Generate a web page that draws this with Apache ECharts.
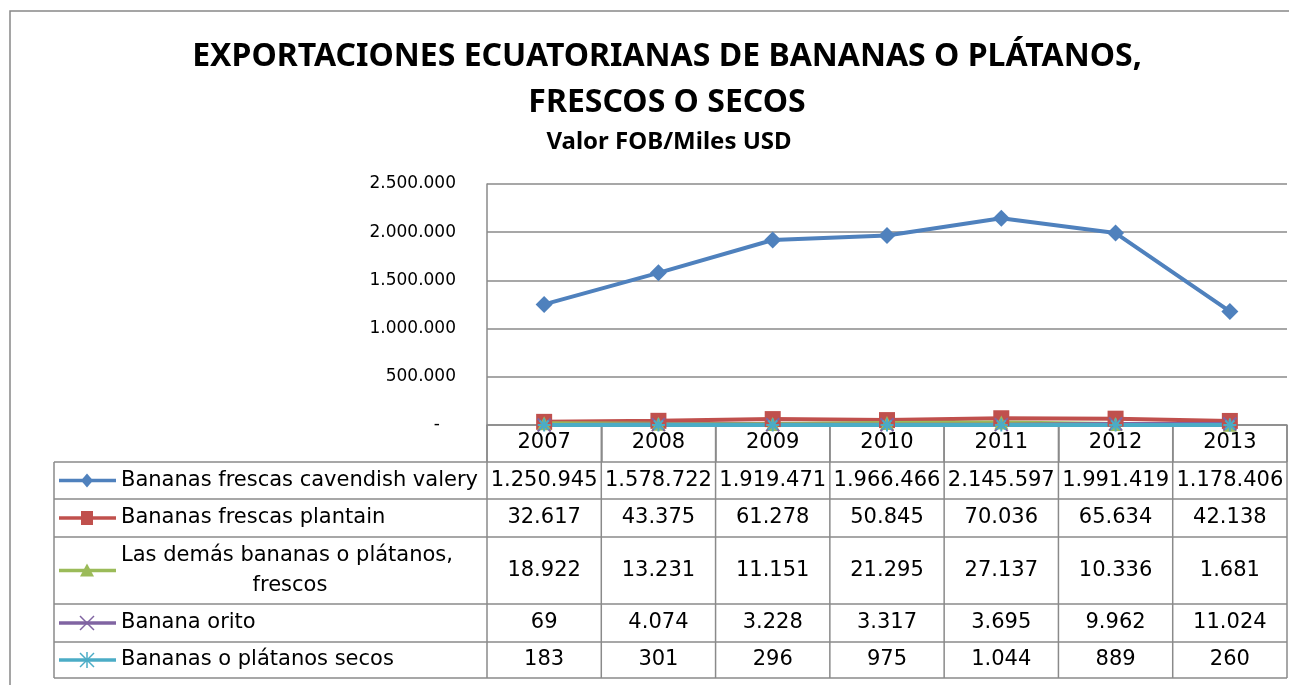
<!DOCTYPE html>
<html>
<head>
<meta charset="utf-8">
<script src="https://cdn.jsdelivr.net/npm/echarts@6/dist/echarts.min.js"></script>
<style>
  html, body { margin: 0; padding: 0; background: #fff; }
  #chart { width: 1289px; height: 685px; }
</style>
</head>
<body>
<div id="chart"></div>
<script>
// datos
var years = ['2007', '2008', '2009', '2010', '2011', '2012', '2013'];
var seriesNames = [
  'Bananas frescas cavendish valery',
  'Bananas frescas plantain',
  'Las demás bananas o plátanos, frescos',
  'Banana orito',
  'Bananas o plátanos secos'
];
var cavendish = [1250945, 1578722, 1919471, 1966466, 2145597, 1991419, 1178406];
var plantain = [32617, 43375, 61278, 50845, 70036, 65634, 42138];
var demas = [18922, 13231, 11151, 21295, 27137, 10336, 1681];
var orito = [69, 4074, 3228, 3317, 3695, 9962, 11024];
var secos = [183, 301, 296, 975, 1044, 889, 260];
var yTicks = [0, 500000, 1000000, 1500000, 2000000, 2500000];

var colors = ['#4F81BD', '#C0504D', '#9BBB59', '#8064A2', '#4BACC6'];
var allData = [cavendish, plantain, demas, orito, secos];
var xPath = 'path://M0,0L10,10M10,0L0,10';
var starPath = 'path://M5,0L5,10M0,5L10,5M1.5,1.5L8.5,8.5M8.5,1.5L1.5,8.5';
var symbols = ['diamond', 'rect', 'triangle', xPath, starPath];
var symSizes = [17, 16, 14, 13, 13];

function fmt(v) {
  return String(v).replace(/\B(?=(\d{3})+(?!\d))/g, '.');
}

var chartDom = document.getElementById('chart');
var myChart = echarts.init(chartDom);
var option;

var series = allData.map(function (d, i) {
  return {
    name: seriesNames[i],
    type: 'line',
    data: d,
    symbol: symbols[i],
    symbolSize: symSizes[i],
    showAllSymbol: true,
    animation: false,
    lineStyle: { color: colors[i], width: 4 },
    itemStyle: { color: colors[i], borderColor: colors[i], borderWidth: i >= 3 ? 2 : 0, opacity: 1 },
    emphasis: { disabled: true }
  };
});

option = {
  animation: false,
  title: [
    {
      text: 'EXPORTACIONES ECUATORIANAS DE BANANAS O PLÁTANOS,\nFRESCOS O SECOS',
      left: 662, top: 29, textAlign: 'center',
      textStyle: { fontFamily: 'Noto Sans', fontWeight: 'bold', fontSize: 32, lineHeight: 46, color: '#000' }
    },
    {
      text: 'Valor FOB/Miles USD',
      left: 664, top: 125, textAlign: 'center',
      textStyle: { fontFamily: 'Noto Sans', fontWeight: 'bold', fontSize: 24, color: '#000' }
    }
  ],
  grid: { left: 487, top: 184, right: 2, height: 241, containLabel: false },
  xAxis: {
    type: 'category',
    data: years,
    boundaryGap: true,
    axisLine: { lineStyle: { color: '#8a8a8a', width: 1.5 } },
    axisTick: { show: true, length: 37, lineStyle: { color: '#8a8a8a', width: 1.5 } },
    axisLabel: { margin: 7, fontFamily: 'DejaVu Sans', fontSize: 21, color: '#000' }
  },
  yAxis: {
    type: 'value',
    min: yTicks[0], max: yTicks[yTicks.length - 1], interval: yTicks[1] - yTicks[0],
    axisLine: { show: true, lineStyle: { color: '#8a8a8a', width: 1.5 } },
    axisTick: { show: false },
    splitLine: { lineStyle: { color: '#8a8a8a', width: 1.5 } },
    axisLabel: {
      margin: 31, fontFamily: 'DejaVu Sans', fontSize: 17, color: '#000',
      formatter: function (v) { return v === 0 ? '-   ' : fmt(v); }
    }
  },
  series: series
};

option && myChart.setOption(option);

// tabla de datos bajo el gráfico
var rowEdges = [462, 499, 537, 604, 642, 678];
var tableLeft = 54, tableRight = 1287, axisY = 425;
var lineCol = '#8a8a8a';
var g = [];

g.push({ type: 'rect', shape: { x: 10, y: 11, width: 1300, height: 700 },
  style: { fill: 'none', stroke: '#888', lineWidth: 1.5 }, silent: true });

rowEdges.forEach(function (y) {
  g.push({ type: 'line', shape: { x1: tableLeft, y1: y, x2: tableRight, y2: y },
    style: { stroke: lineCol, lineWidth: 1.5 }, silent: true });
});
g.push({ type: 'line', shape: { x1: tableLeft, y1: rowEdges[0], x2: tableLeft, y2: rowEdges[5] },
  style: { stroke: lineCol, lineWidth: 1.5 }, silent: true });

var centers = years.map(function (y, j) { return myChart.convertToPixel({ xAxisIndex: 0 }, j); });
var colW = centers[1] - centers[0];
for (var j = 0; j <= years.length; j++) {
  var xb = centers[0] - colW / 2 + j * colW;
  g.push({ type: 'line', shape: { x1: xb, y1: axisY, x2: xb, y2: rowEdges[5] },
    style: { stroke: lineCol, lineWidth: 1.5 }, silent: true });
}

function keySymbol(i, cx, cy, c) {
  if (i === 0) return { type: 'polygon', shape: { points: [[cx, cy - 7], [cx + 6, cy], [cx, cy + 7], [cx - 6, cy]] }, style: { fill: c } };
  if (i === 1) return { type: 'rect', shape: { x: cx - 6, y: cy - 7, width: 12, height: 14 }, style: { fill: c } };
  if (i === 2) return { type: 'polygon', shape: { points: [[cx, cy - 7], [cx + 7, cy + 6], [cx - 7, cy + 6]] }, style: { fill: c } };
  if (i === 3) return { type: 'group', children: [
    { type: 'line', shape: { x1: cx - 7, y1: cy - 7, x2: cx + 7, y2: cy + 7 }, style: { stroke: c, lineWidth: 1.5 } },
    { type: 'line', shape: { x1: cx + 7, y1: cy - 7, x2: cx - 7, y2: cy + 7 }, style: { stroke: c, lineWidth: 1.5 } }] };
  return { type: 'group', children: [
    { type: 'line', shape: { x1: cx - 7, y1: cy - 7, x2: cx + 7, y2: cy + 7 }, style: { stroke: c, lineWidth: 1.5 } },
    { type: 'line', shape: { x1: cx + 7, y1: cy - 7, x2: cx - 7, y2: cy + 7 }, style: { stroke: c, lineWidth: 1.5 } },
    { type: 'line', shape: { x1: cx, y1: cy - 8, x2: cx, y2: cy + 8 }, style: { stroke: c, lineWidth: 1.5 } }] };
}

var labelFont = '21px "DejaVu Sans"';
var numFont = '21px "DejaVu Sans"';
allData.forEach(function (d, i) {
  var cy = (rowEdges[i] + rowEdges[i + 1]) / 2;
  g.push({ type: 'line', shape: { x1: 59, y1: cy, x2: 116, y2: cy },
    style: { stroke: colors[i], lineWidth: 3.5 }, silent: true });
  var s = keySymbol(i, 87, cy, colors[i]);
  s.silent = true;
  g.push(s);
  if (i === 2) {
    g.push({ type: 'text', x: 121, y: cy - 15, style: { text: 'Las demás bananas o plátanos,', font: labelFont, fill: '#000', textAlign: 'left', textVerticalAlign: 'middle' }, silent: true });
    g.push({ type: 'text', x: 290, y: cy + 15, style: { text: 'frescos', font: labelFont, fill: '#000', textAlign: 'center', textVerticalAlign: 'middle' }, silent: true });
  } else {
    g.push({ type: 'text', x: 121, y: cy, style: { text: seriesNames[i], font: labelFont, fill: '#000', textAlign: 'left', textVerticalAlign: 'middle' }, silent: true });
  }
  d.forEach(function (v, j) {
    g.push({ type: 'text', x: centers[j], y: cy, style: { text: fmt(v), font: numFont, fill: '#000', textAlign: 'center', textVerticalAlign: 'middle' }, silent: true });
  });
});

myChart.setOption({ graphic: g });
</script>
</body>
</html>
